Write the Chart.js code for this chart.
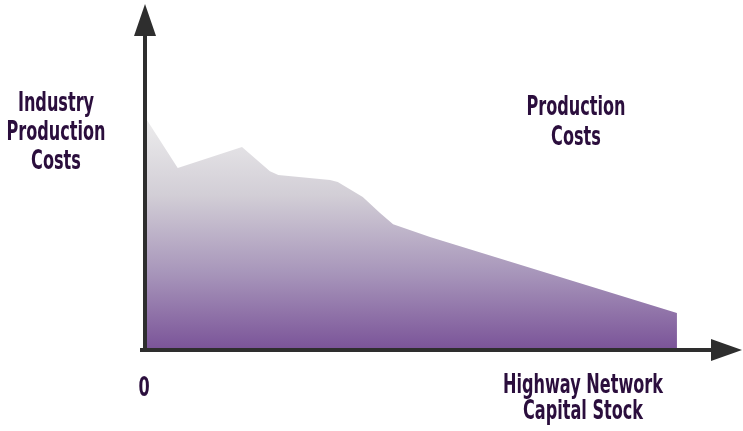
<!DOCTYPE html>
<html>
<head>
<meta charset="utf-8">
<script src="https://cdn.jsdelivr.net/npm/chart.js@4/dist/chart.umd.min.js"></script>
<style>
  html,body{margin:0;padding:0;background:#fff;}
  #wrap{width:743px;height:431px;position:relative;}
</style>
</head>
<body>
<div id="wrap"><canvas id="c" width="743" height="431"></canvas></div>
<script>
// capital stock (x) vs production cost (y), both on a 0-100 scale
const stockValues = [0, 5.5, 16.3, 21, 22.4, 31.1, 32.4, 36.6, 39.5, 41.7, 47.9, 89.4];
const costValues  = [68.5, 53.5, 59.7, 52.6, 51.5, 50, 49.4, 45, 40.3, 37, 33.2, 10.9];
const yAxisLabel = ['Industry', 'Production', 'Costs'];
const seriesLabel = ['Production', 'Costs'];
const xAxisLabel = ['Highway Network', 'Capital Stock'];
const originLabel = '0';

const FONT = 'bold 26px "DejaVu Sans Condensed", "DejaVu Sans", sans-serif';
const TEXT = '#2b0e3d';
const AXIS = '#2e2e2e';

function areaFill(ctx){
  const ca = ctx.chart.chartArea;
  if(!ca) return '#9a86b0';
  const y0 = ctx.chart.scales.y.getPixelForValue(70);
  const g = ctx.chart.ctx.createLinearGradient(0, y0, 0, ca.bottom);
  g.addColorStop(0, '#efefef');
  g.addColorStop(0.35, '#d2ced6');
  g.addColorStop(0.68, '#a795ba');
  g.addColorStop(1, '#7a5398');
  return g;
}

// condensed text: squeeze horizontally so it matches the narrow face of the scan
function label(c, t, x, y, sx){
  c.save(); c.translate(x, y); c.scale(sx, 1); c.fillText(t, 0, 0); c.restore();
}

const decor = {
  id:'decor',
  afterDraw(chart){
    const c = chart.ctx, a = chart.chartArea;
    const ox = a.left, oy = a.bottom;
    c.save();
    c.strokeStyle = AXIS; c.fillStyle = AXIS; c.lineWidth = 4;
    c.beginPath(); c.moveTo(ox, oy + 2); c.lineTo(ox, 30); c.stroke();
    c.beginPath(); c.moveTo(ox - 5, oy); c.lineTo(715, oy); c.stroke();
    c.beginPath(); c.moveTo(ox, 4); c.lineTo(ox + 11, 36); c.lineTo(ox - 11, 36); c.closePath(); c.fill();
    c.beginPath(); c.moveTo(742, oy); c.lineTo(711, oy - 11); c.lineTo(711, oy + 11); c.closePath(); c.fill();

    c.fillStyle = TEXT; c.font = FONT; c.textAlign = 'center'; c.textBaseline = 'middle';
    const sx = 160 / c.measureText('Highway Network').width;
    yAxisLabel.forEach((t,i)=>label(c, t, 56, 104 + i*29, sx));
    seriesLabel.forEach((t,i)=>label(c, t, 576, 108 + i*30, sx));
    xAxisLabel.forEach((t,i)=>label(c, t, 583, 386 + i*26, sx));
    label(c, originLabel, 144, 389, sx);
    c.restore();
  }
};

new Chart(document.getElementById('c'), {
  type:'line',
  data:{ datasets:[{
    data: stockValues.map((x,i)=>({x:x, y:costValues[i]})),
    fill:'origin', backgroundColor: areaFill, borderWidth:0, pointRadius:0, tension:0
  }]},
  options:{
    responsive:false, animation:false, devicePixelRatio:1,
    layout:{ padding:{ left:145, right:3, top:10, bottom:81 } },
    plugins:{ legend:{display:false}, tooltip:{enabled:false} },
    scales:{
      x:{ type:'linear', min:0, max:100, display:false },
      y:{ min:0, max:100, display:false }
    }
  },
  plugins:[decor]
});
</script>
</body>
</html>
